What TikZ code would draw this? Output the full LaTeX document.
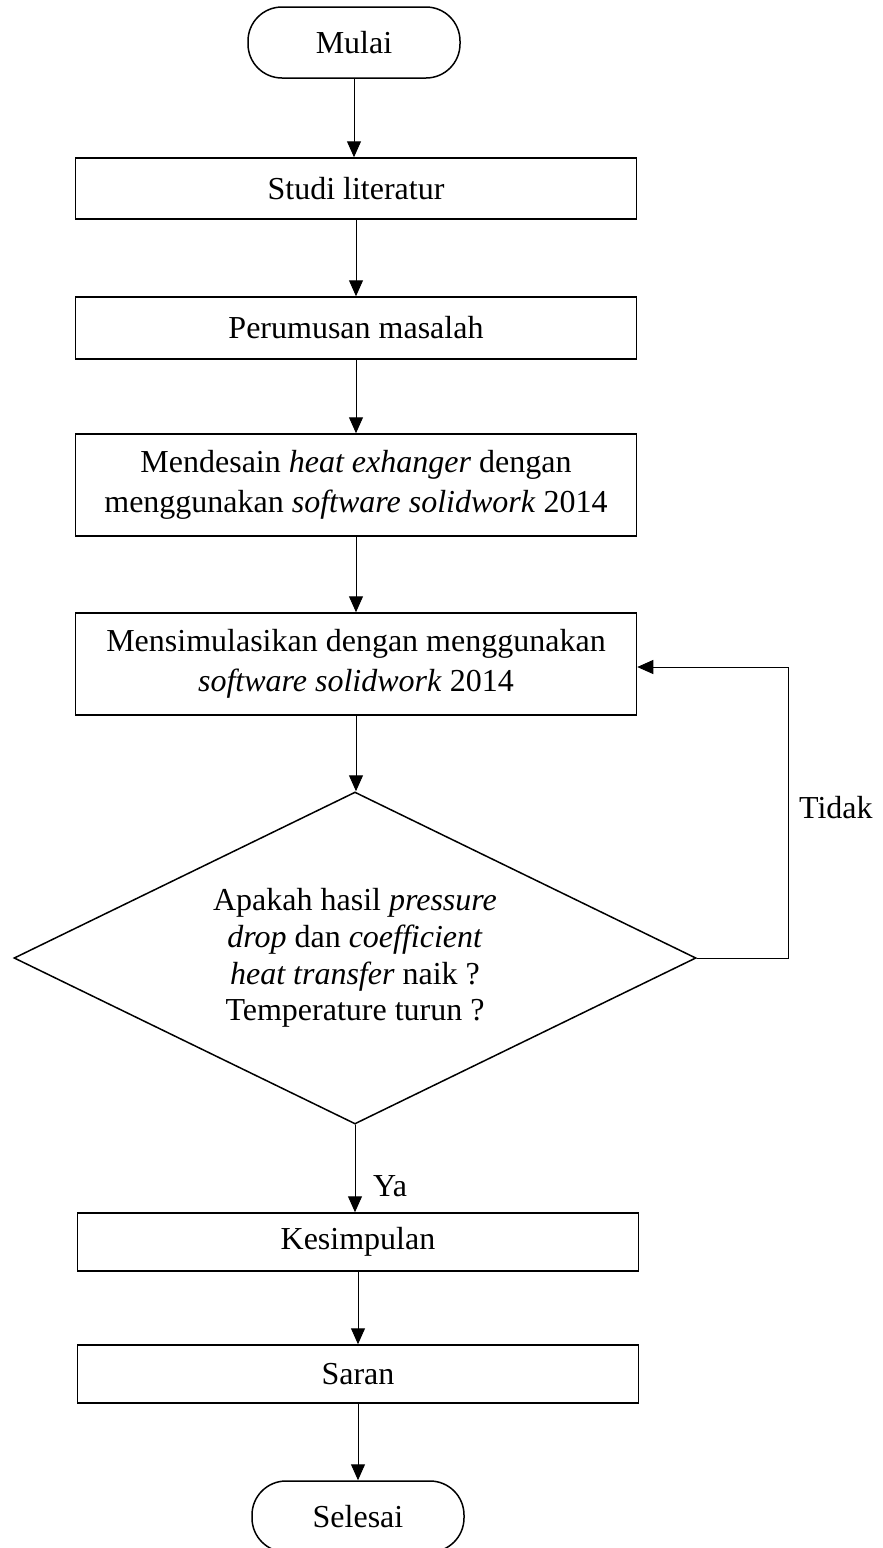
\documentclass[tikz,border=0pt]{standalone}
\usepackage{fontspec}
\setmainfont{Liberation Serif}
\usetikzlibrary{arrows.meta,shapes.geometric}

\begin{document}
\begin{tikzpicture}[x=.5pt,y=-.5pt,line cap=round,
  font=\fontsize{16pt}{20pt}\selectfont,
  box/.style={draw,line width=.75pt,minimum width=280.5pt,inner sep=0pt,align=center},
  term/.style={draw,line width=.75pt,rounded corners=17pt,minimum width=106pt,minimum height=35.5pt},
  decide/.style={draw,diamond,aspect=2,line width=.75pt,minimum width=341pt,minimum height=166pt,
    inner sep=0pt,align=center,font=\fontsize{16pt}{18.4pt}\selectfont},
  flow/.style={-{Triangle[length=8pt,width=7pt]},line width=.5pt}]
  \useasboundingbox (0,0) rectangle (883,1548);

  \node[term] (mulai) at (354,42.5) {Mulai};
  \node[box,minimum height=30.5pt] (studi) at (356,188.5) {Studi literatur};
  \node[box,minimum height=31pt] (rumus) at (356,328) {Perumusan masalah};
  \node[box,minimum height=51pt] (desain) at (356,485)
    {Mendesain \textit{heat exhanger} dengan\\ menggunakan \textit{software solidwork} 2014};
  \node[box,minimum height=51pt] (simulasi) at (356,664)
    {Mensimulasikan dengan menggunakan\\ \textit{software solidwork} 2014};
  \node[decide] (cek) at (355,958)
    {Apakah hasil \textit{pressure}\\ \textit{drop} dan \textit{coefficient}\\
     \textit{heat transfer} naik ?\\ Temperature turun ?};
  \node[box,minimum height=29pt] (simpul) at (358,1242) {Kesimpulan};
  \node[box,minimum height=29pt] (saran) at (358,1374) {Saran};
  \node[term] (selesai) at (358,1516.5) {Selesai};

  \draw[flow] (mulai) -- (mulai |- studi.north);
  \draw[flow] (studi) -- (rumus);
  \draw[flow] (rumus) -- (desain);
  \draw[flow] (desain) -- (simulasi);
  \draw[flow] (simulasi) -- (simulasi |- cek.north);
  \draw[flow] (cek) -- (cek |- simpul.north);
  \draw[flow] (simpul) -- (saran);
  \draw[flow] (saran) -- (selesai);

  % loop back when the check fails
  \draw[flow] (cek.east) -- ++(92,0) |- ([yshift=-1.5pt]simulasi.east);
  \node[anchor=west] (tidak) at (792,808) {Tidak};
  \node[anchor=west] (ya) at (366,1186) {Ya};
\end{tikzpicture}
\end{document}
